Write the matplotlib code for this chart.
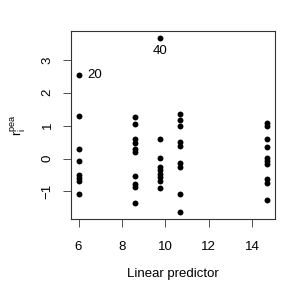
import matplotlib

matplotlib.use('Agg')
import matplotlib.pyplot as plt
import numpy as np

# residual groups by linear predictor value
lin_pred = [6.0, 8.61, 9.77, 10.66, 14.7]
resid = [
    [2.55, 1.28, 0.28, -0.08, -0.50, -0.60, -0.68, -1.07],
    [1.27, 1.06, 0.58, 0.47, 0.30, 0.20, -0.54, -0.76, -0.88, -1.36],
    [3.66, 0.58, 0.01, -0.25, -0.35, -0.47, -0.57, -0.68, -0.90],
    [1.34, 1.17, 0.99, 0.50, 0.38, -0.15, -0.27, -1.09, -1.63],
    [1.09, 0.99, 0.58, 0.35, 0.03, -0.07, -0.17, -0.63, -0.73, -1.26],
]
labels = {'20': (6.0, 2.55), '40': (9.77, 3.66)}
xticks = [6, 8, 10, 12, 14]
yticks = [-1, 0, 1, 2, 3]

FS = 9.5
plt.rcParams['font.family'] = ['Liberation Sans', 'DejaVu Sans']
plt.rcParams['mathtext.fontset'] = 'custom'
plt.rcParams['mathtext.rm'] = 'Liberation Sans'

x = np.concatenate([[lp] * len(r) for lp, r in zip(lin_pred, resid)])
y = np.concatenate(resid)

fig = plt.figure(figsize=(2.91, 2.91), dpi=100)
ax = fig.add_axes([0.244, 0.247, 0.701, 0.646])
ax.scatter(x, y, s=18, color='black', linewidths=0)

# R-style 4% padding of the data range
xr = x.max() - x.min()
yr = y.max() - y.min()
ax.set_xlim(x.min() - 0.04 * xr, x.max() + 0.04 * xr)
ax.set_ylim(y.min() - 0.04 * yr, y.max() + 0.04 * yr)

ax.annotate('20', labels['20'], xytext=(6, 0), textcoords='offset points',
            ha='left', va='center', fontsize=FS)
ax.annotate('40', labels['40'], xytext=(0, -5), textcoords='offset points',
            ha='center', va='top', fontsize=FS)

ax.set_xticks(xticks)
ax.set_yticks(yticks)
ax.tick_params(labelsize=FS, length=5.5, width=0.6, color='#333333')
ax.tick_params(axis='x', pad=10)
ax.tick_params(axis='y', pad=7)
for lab in ax.get_yticklabels():
    lab.set_rotation(90)
    lab.set_va('center')
for sp in ax.spines.values():
    sp.set_linewidth(0.8)
    sp.set_color('#333333')

ax.set_xlabel('Linear predictor', fontsize=FS, labelpad=11)
ax.set_ylabel(r'$\mathrm{r}_\mathrm{i}^\mathrm{pea}$', fontsize=FS, labelpad=10)

fig.savefig('out.png', dpi=100)
